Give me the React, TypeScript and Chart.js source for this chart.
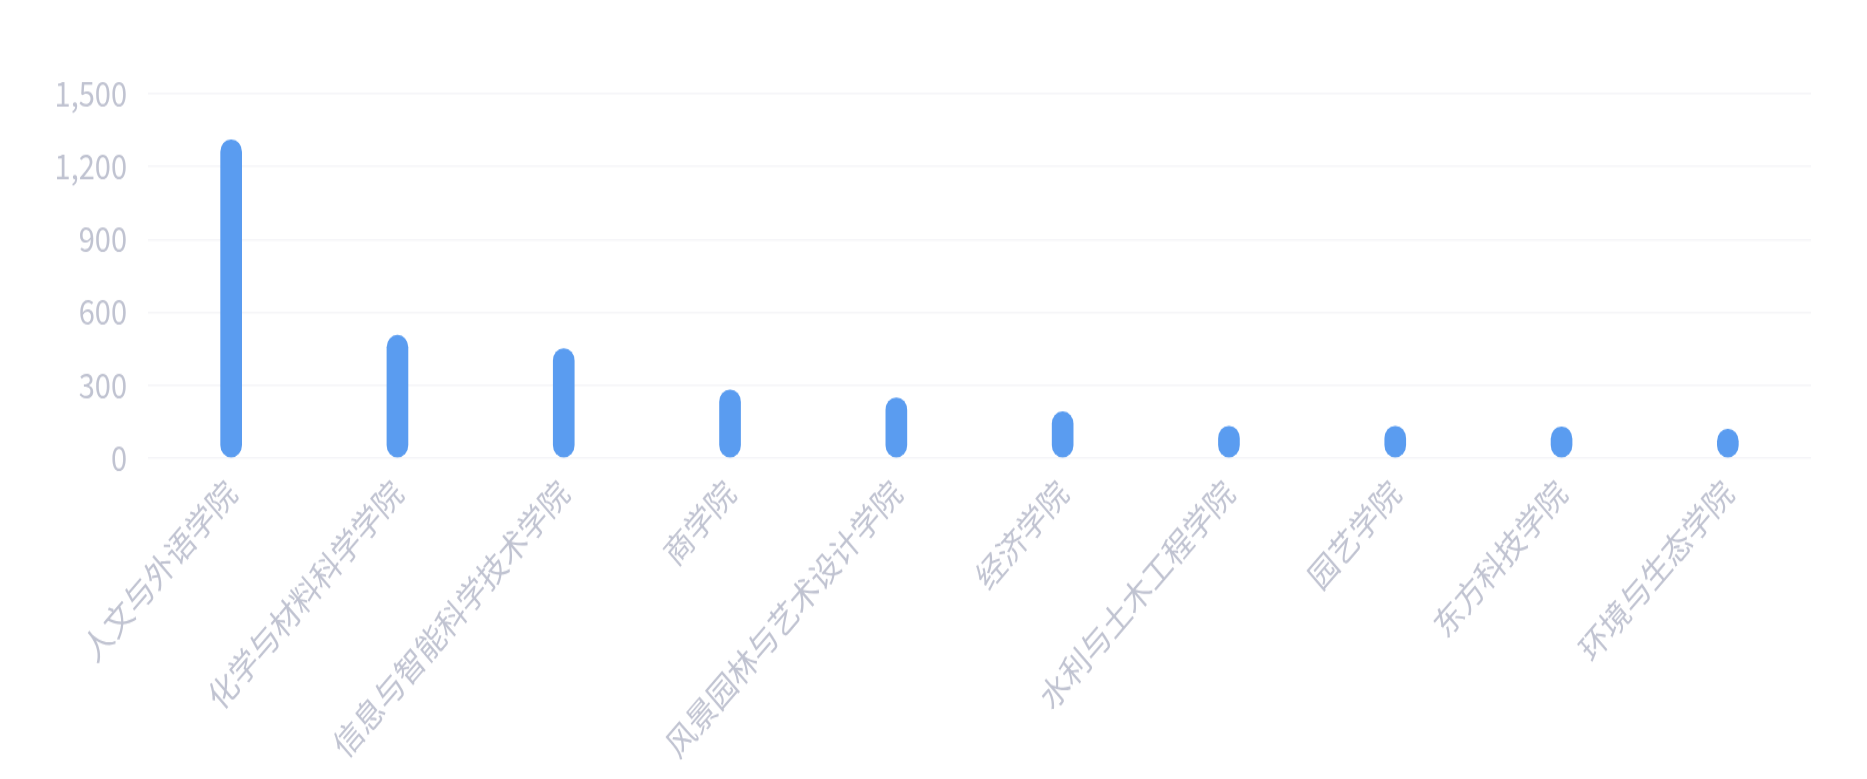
import React, { useEffect, useRef } from "react";
import { Chart, registerables } from "chart.js";

Chart.register(...registerables);

const categories = [
  "人文与外语学院",
  "化学与材料科学学院",
  "信息与智能科学技术学院",
  "商学院",
  "风景园林与艺术设计学院",
  "经济学院",
  "水利与土木工程学院",
  "园艺学院",
  "东方科技学院",
  "环境与生态学院",
];
const values = [1310, 505, 450, 280, 247, 190, 130, 130, 128, 118];
const yTicks = [0, 300, 600, 900, 1200, 1500];

const STRETCH_Y = 1.17;
const W = 1867;
const H = 779;

export default function App() {
  const ref = useRef<HTMLCanvasElement | null>(null);

  useEffect(() => {
    document.body.style.margin = "0";
    const canvas = ref.current;
    if (!canvas) return;
    const font = { family: "'Noto Sans CJK SC', 'Noto Sans', sans-serif", size: 29, weight: "normal" as any };
    const textColor = "#c0c3d1";
    const chart = new Chart(canvas, {
      type: "bar",
      data: {
        labels: categories,
        datasets: [
          {
            data: values,
            backgroundColor: "#5a9cf0",
            barThickness: 21,
            borderRadius: 11,
            borderSkipped: false,
          },
        ],
      },
      options: {
        animation: false,
        responsive: true,
        maintainAspectRatio: false,
        layout: { padding: { top: 80, right: 56, left: 0, bottom: 0 } },
        plugins: { legend: { display: false }, tooltip: { enabled: false } },
        scales: {
          x: {
            grid: { display: false, drawTicks: false },
            border: { display: false },
            ticks: {
              color: textColor,
              font,
              autoSkip: false,
              minRotation: 45,
              maxRotation: 45,
              padding: 12,
            },
            afterFit: (scale: any) => {
              scale.height = 275;
            },
          },
          y: {
            min: 0,
            max: 1500,
            afterBuildTicks: (scale: any) => {
              scale.ticks = yTicks.map((v) => ({ value: v }));
            },
            grid: { color: "#f5f5f8", lineWidth: 1.5, drawTicks: false },
            border: { display: false },
            ticks: {
              color: textColor,
              font,
              padding: 21,
              callback: (v: any) => Number(v).toLocaleString("en-US"),
            },
            afterFit: (scale: any) => {
              scale.width = 148;
            },
          },
        },
      },
    });
    return () => chart.destroy();
  }, []);

  return (
    <div style={{ width: W, height: H, overflow: "hidden", background: "#fff" }}>
      <div
        style={{
          width: W,
          height: H / STRETCH_Y,
          transform: `scaleY(${STRETCH_Y})`,
          transformOrigin: "top left",
        }}
      >
        <canvas ref={ref} />
      </div>
    </div>
  );
}
